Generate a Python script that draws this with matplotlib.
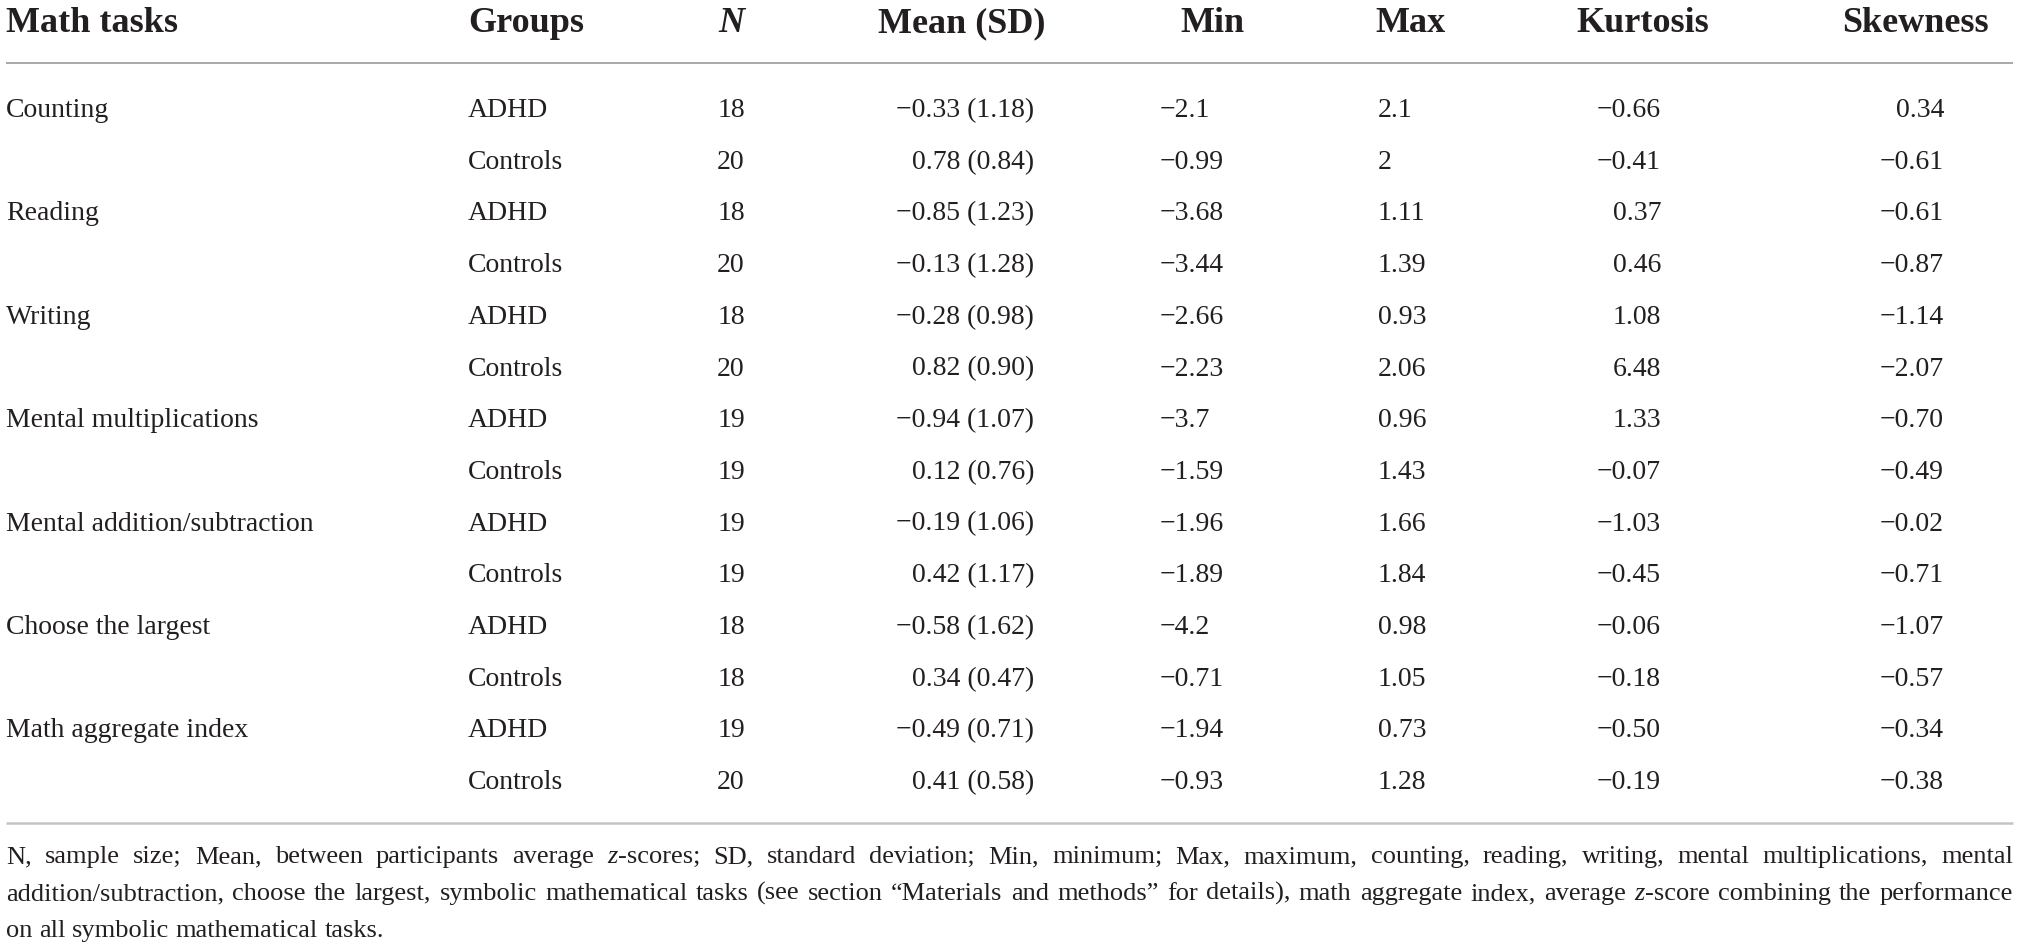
import matplotlib
matplotlib.use('Agg')
import matplotlib.pyplot as plt

# Table contents
tasks = ['Counting', 'Reading', 'Writing', 'Mental multiplications',
         'Mental addition/subtraction', 'Choose the largest', 'Math aggregate index']
groups = ['ADHD', 'Controls']
n_vals = [18, 20, 18, 20, 18, 20, 19, 19, 19, 19, 18, 18, 19, 20]
means = ['-0.33', '0.78', '-0.85', '-0.13', '-0.28', '0.82', '-0.94', '0.12',
         '-0.19', '0.42', '-0.58', '0.34', '-0.49', '0.41']
sds = ['1.18', '0.84', '1.23', '1.28', '0.98', '0.90', '1.07', '0.76',
       '1.06', '1.17', '1.62', '0.47', '0.71', '0.58']
mins = ['-2.1', '-0.99', '-3.68', '-3.44', '-2.66', '-2.23', '-3.7', '-1.59',
        '-1.96', '-1.89', '-4.2', '-0.71', '-1.94', '-0.93']
maxs = ['2.1', '2', '1.11', '1.39', '0.93', '2.06', '0.96', '1.43',
        '1.66', '1.84', '0.98', '1.05', '0.73', '1.28']
kurtosis = ['-0.66', '-0.41', '0.37', '0.46', '1.08', '6.48', '1.33', '-0.07',
            '-1.03', '-0.45', '-0.06', '-0.18', '-0.50', '-0.19']
skewness = ['0.34', '-0.61', '-0.61', '-0.87', '-1.14', '-2.07', '-0.70', '-0.49',
            '-0.02', '-0.71', '-1.07', '-0.57', '-0.34', '-0.38']

footnote = [
    "N, sample size; Mean, between participants average *z*-scores; SD, standard deviation; "
    "Min, minimum; Max, maximum, counting, reading, writing, mental multiplications, mental",
    "addition/subtraction, choose the largest, symbolic mathematical tasks (see section "
    "\u201cMaterials and methods\u201d for details), math aggregate index, average *z*-score "
    "combining the performance",
    "on all symbolic mathematical tasks.",
]

def fix(s):
    return s.replace('-', '\u2212')

FONT = 'Liberation Serif'
W, H = 2019, 950
fig = plt.figure(figsize=(W / 100, H / 100), dpi=100)
ax = fig.add_axes([0, 0, 1, 1])
ax.set_xlim(0, W)
ax.set_ylim(H, 0)
ax.axis('off')

body = dict(family=FONT, fontsize=20, color='#231f20', va='baseline')
head = dict(family=FONT, fontsize=26, color='#231f20', va='baseline', weight='bold')

# header
hy = 32
ax.text(6, hy, 'Math tasks', ha='left', **head)
ax.text(468, hy, 'Groups', ha='left', **head)
ax.text(731, hy, 'N', ha='center', style='italic', **head)
ax.text(962, hy, 'Mean (SD)', ha='center', **head)
ax.text(1212, hy, 'Min', ha='center', **head)
ax.text(1410, hy, 'Max', ha='center', **head)
ax.text(1643, hy, 'Kurtosis', ha='center', **head)
ax.text(1915, hy, 'Skewness', ha='center', **head)

ax.plot([6, 2013], [63, 63], color='#9a9a9a', lw=1.2, solid_capstyle='butt')

# rows
y0, dy = 117, 51.7
for i in range(len(n_vals)):
    y = y0 + i * dy
    if i % 2 == 0:
        ax.text(6, y, tasks[i // 2], ha='left', **body)
    ax.text(468, y, groups[i % 2], ha='left', **body)
    ax.text(731, y, str(n_vals[i]), ha='center', **body)
    ax.text(1034, y, fix(f'{means[i]} ({sds[i]})'), ha='right', **body)
    ax.text(1160, y, fix(mins[i]), ha='left', **body)
    ax.text(1378, y, fix(maxs[i]), ha='left', **body)
    ax.text(1661, y, fix(kurtosis[i]), ha='right', **body)
    ax.text(1944, y, fix(skewness[i]), ha='right', **body)

ax.plot([6, 2013], [823, 823], color='#c4c4c4', lw=1.8, solid_capstyle='butt')

# footnote, justified like the journal layout
renderer = fig.canvas.get_renderer()
foot = dict(family=FONT, fontsize=19, color='#231f20', va='baseline', ha='left')

def segments(word):
    parts = word.split('*')
    return [(p, k % 2 == 1) for k, p in enumerate(parts) if p]

def draw_word(x, y, word, measure_only=False):
    start = x
    for txt, ital in segments(word):
        t = ax.text(x, y, txt, style='italic' if ital else 'normal', **foot)
        w = t.get_window_extent(renderer).width
        if measure_only:
            t.remove()
        x += w
    return x - start

left, right = 6, 2013
fy = [863, 900, 937]
for k, line in enumerate(footnote):
    words = line.split(' ')
    widths = [draw_word(0, 0, w, measure_only=True) for w in words]
    if k < len(footnote) - 1:
        gap = (right - left - sum(widths)) / (len(words) - 1)
    else:
        gap = draw_word(0, 0, 'a a', True) - 2 * draw_word(0, 0, 'a', True)
    x = left
    for w, wd in zip(words, widths):
        draw_word(x, fy[k], w)
        x += wd + gap

fig.savefig('out.png', dpi=100, facecolor='white')
